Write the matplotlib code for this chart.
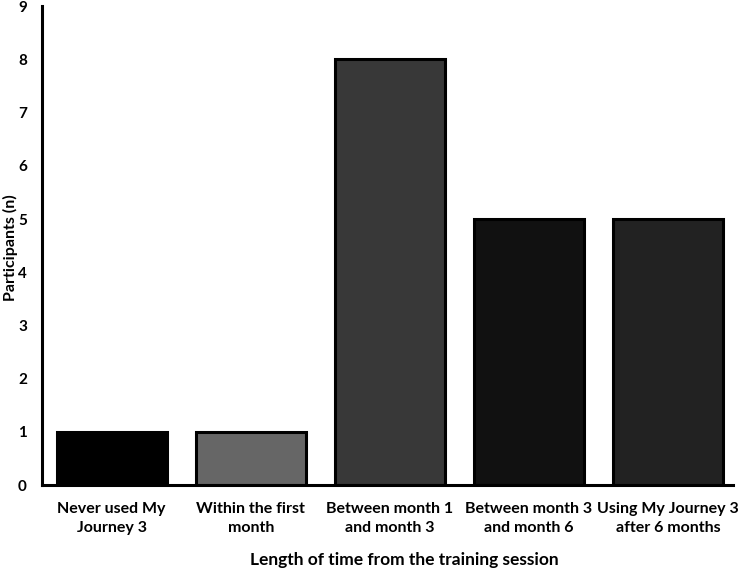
import matplotlib
matplotlib.use('Agg')
import matplotlib.pyplot as plt

categories = ['Never used My\nJourney 3', 'Within the first\nmonth', 'Between month 1\nand month 3',
              'Between month 3\nand month 6', 'Using My Journey 3\nafter 6 months']
participants = [1, 1, 8, 5, 5]
bar_colors = ['#000000', '#666666', '#383838', '#111111', '#222222']

plt.rcParams['font.family'] = ['Lato', 'DejaVu Sans']
plt.rcParams['font.weight'] = 'bold'

fig = plt.figure(figsize=(7.4, 5.68), dpi=100)
ax = fig.add_axes([0.057, 0.146, 0.934, 0.843])

x = range(len(categories))
ax.bar(x, participants, width=0.79, color=bar_colors, edgecolor='black', linewidth=2.2)

ax.set_xlim(-0.5, 4.47)
ax.set_ylim(0, 9)
ax.set_yticks(range(10))
ax.set_xticks(list(x))
ax.set_xticklabels(categories, fontsize=11.5, fontweight='bold', linespacing=1.45)
plt.yticks(fontsize=11, fontweight='bold')
ax.tick_params(axis='y', length=0, pad=11)
ax.tick_params(axis='x', length=0, pad=12)

for s in ['top', 'right']:
    ax.spines[s].set_visible(False)
for s in ['left', 'bottom']:
    ax.spines[s].set_linewidth(2.2)

ax.set_xlabel('Length of time from the training session', fontsize=12.5, fontweight='bold')
ax.xaxis.set_label_coords(0.524, -0.14)
ax.set_ylabel('Participants (n)', fontsize=11.5, fontweight='bold')
ax.yaxis.set_label_coords(-0.035, 0.495)

fig.savefig('out.png', dpi=100)
